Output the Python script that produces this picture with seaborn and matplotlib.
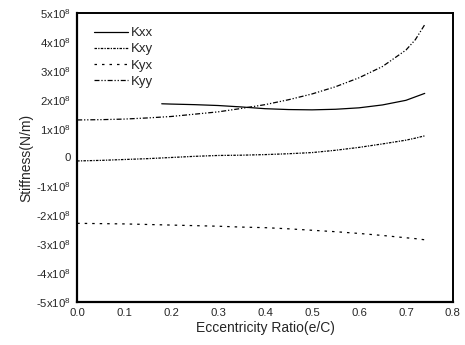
import numpy as np
import pandas as pd
import matplotlib
matplotlib.use("Agg")
import matplotlib.pyplot as plt
import seaborn as sns

# eccentricity ratio samples
ecc = [0.0, 0.05, 0.10, 0.15, 0.20, 0.25, 0.30, 0.35, 0.40, 0.45,
       0.50, 0.55, 0.60, 0.65, 0.70, 0.72, 0.74]
ecc_kxx = [0.18, 0.20, 0.25, 0.30, 0.35, 0.40, 0.45, 0.50, 0.55,
           0.60, 0.65, 0.70, 0.74]

# stiffness values in units of 1e8 N/m
kxx = [1.86, 1.85, 1.83, 1.80, 1.75, 1.69, 1.66, 1.65, 1.67,
       1.72, 1.82, 1.98, 2.22]
kxy = [-0.12, -0.10, -0.07, -0.04, 0.00, 0.04, 0.07, 0.08, 0.10,
       0.13, 0.17, 0.25, 0.35, 0.47, 0.60, 0.67, 0.75]
kyx = [-2.28, -2.29, -2.30, -2.32, -2.34, -2.36, -2.38, -2.41, -2.43,
       -2.47, -2.52, -2.57, -2.63, -2.70, -2.78, -2.81, -2.85]
kyy = [1.30, 1.31, 1.33, 1.37, 1.42, 1.50, 1.58, 1.70, 1.83,
       2.00, 2.20, 2.45, 2.76, 3.15, 3.72, 4.08, 4.60]

ytick_vals = [5, 4, 3, 2, 1, 0, -1, -2, -3, -4, -5]
ytick_labels = ["5x10$^8$", "4x10$^8$", "3x10$^8$", "2x10$^8$", "1x10$^8$", "0",
                "-1x10$^8$", "-2x10$^8$", "-3x10$^8$", "-4x10$^8$", "-5x10$^8$"]
xtick_vals = [0.0, 0.1, 0.2, 0.3, 0.4, 0.5, 0.6, 0.7, 0.8]

sns.set_style("white")
plt.rcParams['font.family'] = ['Liberation Sans', 'DejaVu Sans']
plt.rcParams['mathtext.fontset'] = 'custom'
plt.rcParams['mathtext.rm'] = 'Liberation Sans'

fig = plt.figure(figsize=(4.65, 3.45), dpi=100)
ax = fig.add_axes([0.166, 0.125, 0.808, 0.837])

sns.lineplot(x=ecc_kxx, y=kxx, ax=ax, color='black', lw=0.9,
             linestyle='-', label='Kxx')
sns.lineplot(x=ecc, y=kxy, ax=ax, color='black', lw=0.9,
             linestyle=(0, (2, 1, 1, 1)), label='Kxy')
sns.lineplot(x=ecc, y=kyx, ax=ax, color='black', lw=0.9,
             linestyle=(0, (2, 4)), label='Kyx')
sns.lineplot(x=ecc, y=kyy, ax=ax, color='black', lw=0.9,
             linestyle=(0, (4, 1.5, 1, 1.5, 1, 1.5)), label='Kyy')

ax.set_xlim(0, 0.8)
ax.set_ylim(-5, 5)
ax.set_xticks(xtick_vals)
ax.set_xticklabels([f"{v:.1f}" for v in xtick_vals])
ax.set_yticks(ytick_vals)
ax.set_yticklabels(ytick_labels)
ax.set_xticks(np.arange(0.05, 0.8, 0.1), minor=True)
ax.set_yticks(np.arange(-4.5, 5, 1), minor=True)
ax.tick_params(axis='both', which='major', direction='in', length=4, width=1.2,
               labelsize=8.2)
ax.tick_params(axis='x', which='major', pad=4.5)
ax.tick_params(axis='y', which='major', pad=4.5)
ax.tick_params(axis='both', which='minor', direction='in', length=2, width=1)
for side in ['left', 'bottom']:
    ax.spines[side].set_linewidth(1.6)
for side in ['top', 'right']:
    ax.spines[side].set_linewidth(1.4)
for s in ax.spines.values():
    s.set_color('black')

ax.set_xlabel('Eccentricity Ratio(e/C)', fontsize=10, labelpad=2)
ax.set_ylabel('Stiffness(N/m)', fontsize=10, labelpad=2)

ax.legend(loc='upper left', bbox_to_anchor=(0.03, 0.97), frameon=False,
          fontsize=9.5, handlelength=2.6, handletextpad=0.2, labelspacing=0.3,
          borderaxespad=0)

fig.savefig("out.png", dpi=100)
